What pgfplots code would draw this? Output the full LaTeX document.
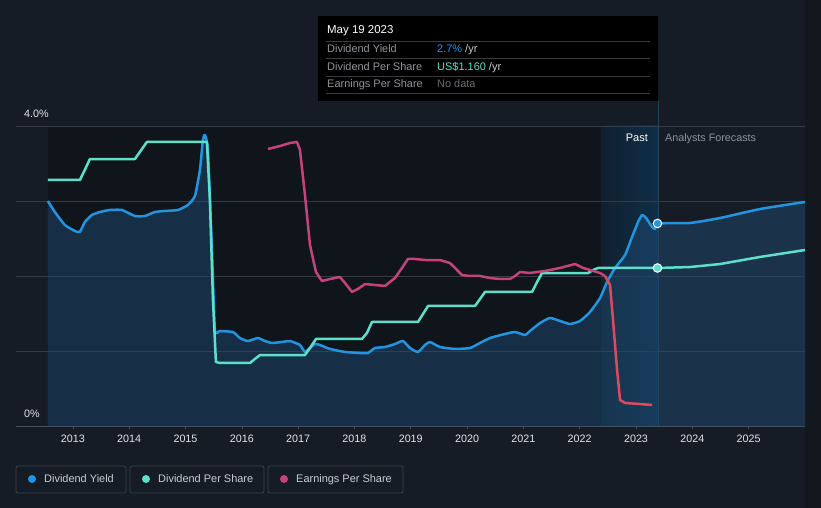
\documentclass[border=0pt]{standalone}
\usepackage{fontspec}
\setmainfont{Liberation Sans}
\usepackage{pgfplots}
\pgfplotsset{compat=1.18}
\usepackage{pgfplotstable}

\definecolor{bg}{HTML}{161C26}
\definecolor{rstrip}{HTML}{13181F}
\definecolor{pastbg}{HTML}{10151C}
\definecolor{gridc}{HTML}{363C45}
\definecolor{axisc}{HTML}{4A5059}
\definecolor{dy}{HTML}{2394DF}
\definecolor{dps}{HTML}{5DE0C9}
\definecolor{eps}{HTML}{C4437C}
\definecolor{epsred}{HTML}{DE4A5E}
\definecolor{ticktext}{HTML}{E2E4E7}
\definecolor{greytext}{HTML}{8E939A}
\definecolor{legtext}{HTML}{C9CCD1}
\definecolor{legbox}{HTML}{3B414A}
\definecolor{yfill}{HTML}{1F4A70}
\definecolor{hlL}{HTML}{11202F}
\definecolor{hlR}{HTML}{0F2E47}
\definecolor{vline}{HTML}{1C4464}
\definecolor{sepc}{HTML}{3A3A3A}
\definecolor{unitc}{HTML}{C8CACE}
\definecolor{nodata}{HTML}{6A6D72}

\pgfplotstableread{
year yield
2012.556 3.000
2012.680 2.853
2012.858 2.680
2013.036 2.600
2013.124 2.587
2013.213 2.720
2013.337 2.813
2013.480 2.853
2013.657 2.880
2013.870 2.880
2014.101 2.800
2014.279 2.800
2014.456 2.853
2014.634 2.867
2014.865 2.880
2015.043 2.947
2015.167 3.067
2015.256 3.413
2015.309 3.813
2015.345 3.880
2015.398 3.680
2015.469 2.347
2015.522 1.280
2015.611 1.267
2015.842 1.253
2015.966 1.173
2016.108 1.133
2016.286 1.173
2016.410 1.133
2016.535 1.107
2016.712 1.120
2016.854 1.133
2017.032 1.080
2017.121 0.987
2017.210 1.040
2017.298 1.093
2017.387 1.080
2017.565 1.027
2017.831 0.987
2018.098 0.973
2018.240 0.973
2018.364 1.040
2018.542 1.053
2018.719 1.093
2018.861 1.133
2018.986 1.040
2019.128 0.987
2019.252 1.080
2019.341 1.120
2019.519 1.053
2019.785 1.027
2020.052 1.040
2020.229 1.107
2020.407 1.173
2020.673 1.227
2020.851 1.253
2021.028 1.213
2021.117 1.267
2021.295 1.373
2021.472 1.440
2021.650 1.400
2021.828 1.360
2022.005 1.400
2022.183 1.520
2022.361 1.707
2022.485 1.920
2022.627 2.107
2022.805 2.280
2022.929 2.520
2023.036 2.720
2023.107 2.813
2023.178 2.773
2023.284 2.653
2023.337 2.627
2023.380 2.700
2023.959 2.707
2024.492 2.773
2025.202 2.893
2026.000 2.987
}\yieldtab

\pgfplotstableread{
year dps
2012.556 1.806
2013.124 1.806
2013.195 1.865
2013.302 1.960
2014.101 1.960
2014.190 2.012
2014.314 2.085
2015.380 2.085
2015.433 1.659
2015.487 0.925
2015.540 0.470
2015.611 0.4625
2016.144 0.4625
2016.233 0.492
2016.321 0.521
2017.121 0.521
2017.210 0.573
2017.316 0.639
2018.133 0.639
2018.222 0.683
2018.311 0.764
2019.128 0.764
2019.217 0.822
2019.306 0.881
2020.140 0.881
2020.229 0.932
2020.318 0.984
2021.153 0.984
2021.242 1.057
2021.330 1.123
2022.147 1.123
2022.236 1.145
2022.325 1.160
2023.380 1.160
2023.959 1.167
2024.492 1.189
2025.202 1.241
2026.000 1.292
}\dpstab

\pgfplotstableread{
year eps
2016.464 3.693
2016.677 3.733
2016.854 3.773
2016.979 3.787
2017.032 3.680
2017.121 3.080
2017.210 2.413
2017.316 2.053
2017.423 1.933
2017.565 1.960
2017.742 1.987
2017.831 1.907
2017.956 1.787
2018.062 1.827
2018.187 1.893
2018.364 1.880
2018.542 1.867
2018.719 1.973
2018.844 2.107
2018.950 2.227
2019.075 2.227
2019.252 2.213
2019.519 2.213
2019.696 2.173
2019.785 2.107
2019.909 2.013
2020.052 2.000
2020.229 2.000
2020.407 1.973
2020.584 1.960
2020.762 1.960
2020.851 2.000
2020.940 2.053
2021.117 2.040
2021.384 2.067
2021.650 2.107
2021.917 2.160
2022.059 2.107
2022.183 2.080
2022.361 2.040
2022.450 2.000
}\epstabA

\pgfplotstableread{
year eps
2022.450 2.000
2022.538 1.880
2022.591 1.413
2022.663 0.747
2022.716 0.347
2022.805 0.307
2023.071 0.293
2023.284 0.280
}\epstabB

\pgfplotsset{base/.style={scale only axis, width=789bp, height=300bp,
  xmin=2011.99, xmax=2026, at={(16bp,82bp)}, anchor=south west, clip=false}}

\begin{document}
\begin{tikzpicture}[x=1bp,y=1bp]
% background
\fill[bg] (0,0) rectangle (821,508);
\fill[rstrip] (805,0) rectangle (821,508);
% past region
\fill[pastbg] (48,82) rectangle (601,382);
\shade[left color=hlL, right color=hlR] (601,82) rectangle (658,382);
\draw[vline, line width=0.8bp] (658,82) -- (658,407);

% Dividend yield axis
\begin{axis}[base, ymin=0, ymax=4,
  axis line style={draw=none},
  xtick={2013,2014,...,2025},
  xticklabel style={font=\fontsize{10.8}{12}\selectfont, text=ticktext, /pgf/number format/1000 sep={}, yshift=-2bp},
  /pgf/number format/assume math mode=true,
  xtick pos=bottom, tick align=outside, major tick length=3bp,
  every tick/.style={axisc, line width=0.6bp},
  ytick={1,2,3,4}, yticklabels={}, ytick style={draw=none},
  ymajorgrids, grid style={gridc, line width=0.7bp}]
  \addplot[draw=none, fill=yfill, fill opacity=0.5, smooth, tension=0.3] table[x=year, y=yield] {\yieldtab} \closedcycle;
  \addplot[dy, line width=2.5bp, line join=round, smooth, tension=0.3] table[x=year, y=yield] {\yieldtab};
  \draw[axisc, line width=0.8bp] (rel axis cs:0,0) -- (rel axis cs:1,0);
  \node[anchor=base west, inner sep=0pt, font=\fontsize{10.8}{12}\selectfont, text=ticktext] at (axis cs:2011.99,4) [xshift=8bp, yshift=8bp] {4.0\%};
  \node[anchor=base west, inner sep=0pt, font=\fontsize{10.8}{12}\selectfont, text=ticktext] at (axis cs:2011.99,0) [xshift=8bp, yshift=8bp] {0\%};
\end{axis}

% Dividend per share axis
\begin{axis}[base, ymin=0, ymax=2.2025, hide axis]
  \addplot[dps, line width=2.5bp, line join=round] table[x=year, y=dps] {\dpstab};
  \addplot[only marks, mark=*, mark size=4.3bp, mark options={fill=dps, draw=white, line width=1bp}] coordinates {(2023.380,1.160)};
\end{axis}

% Earnings per share axis
\begin{axis}[base, ymin=0, ymax=4, hide axis]
  \addplot[eps, line width=2.5bp, line join=round] table[x=year, y=eps] {\epstabA};
  \addplot[epsred, line width=2.5bp, line join=round] table[x=year, y=eps] {\epstabB};
\end{axis}

% yield marker on top
\begin{axis}[base, ymin=0, ymax=4, hide axis]
  \addplot[only marks, mark=*, mark size=4.3bp, mark options={fill=dy, draw=white, line width=1bp}] coordinates {(2023.380,2.700)};
\end{axis}

% Past / Forecast labels
\node[anchor=base east, inner sep=0pt, font=\fontsize{11}{13}\selectfont, text=white] at (648,366) {Past};
\node[anchor=base west, inner sep=0pt, font=\fontsize{10.8}{13}\selectfont, text=greytext] at (665,366) {Analysts Forecasts};

% Tooltip
\fill[black] (318,407) rectangle (658,492);
\node[anchor=base west, inner sep=0pt, font=\fontsize{11.5}{13}\selectfont, text=white] at (327,474) {May 19 2023};
\foreach \yy in {466.3,449.7,431.7,415} {\draw[sepc, line width=0.7bp] (326,\yy) -- (650,\yy);}
\node[anchor=base west, inner sep=0pt, font=\fontsize{11}{13}\selectfont, text=greytext] at (327,455) {Dividend Yield};
\node[anchor=base west, inner sep=0pt, font=\fontsize{11}{13}\selectfont, text=greytext] at (327,437) {Dividend Per Share};
\node[anchor=base west, inner sep=0pt, font=\fontsize{11}{13}\selectfont, text=greytext] at (327,420) {Earnings Per Share};
\node[anchor=base west, inner sep=0pt, font=\fontsize{11}{13}\selectfont] at (437,455) {\textcolor{dy}{2.7\%}\ \textcolor{unitc}{/yr}};
\node[anchor=base west, inner sep=0pt, font=\fontsize{11}{13}\selectfont] at (437,437) {\textcolor{dps}{US\$1.160}\ \textcolor{unitc}{/yr}};
\node[anchor=base west, inner sep=0pt, font=\fontsize{11}{13}\selectfont, text=nodata] at (437,420) {No data};

% Legend
\draw[legbox, line width=0.8bp, rounded corners=2bp] (16,15) rectangle (126,42);
\draw[legbox, line width=0.8bp, rounded corners=2bp] (130,15) rectangle (264,42);
\draw[legbox, line width=0.8bp, rounded corners=2bp] (268,15) rectangle (403,42);
\fill[dy] (32,29) circle (4);
\fill[dps] (146,29) circle (4);
\fill[eps] (284,29) circle (4);
\node[anchor=base west, inner sep=0pt, font=\fontsize{11}{13}\selectfont, text=legtext] at (44,25) {Dividend Yield};
\node[anchor=base west, inner sep=0pt, font=\fontsize{11}{13}\selectfont, text=legtext] at (158,25) {Dividend Per Share};
\node[anchor=base west, inner sep=0pt, font=\fontsize{11}{13}\selectfont, text=legtext] at (296,25) {Earnings Per Share};
\end{tikzpicture}
\end{document}
